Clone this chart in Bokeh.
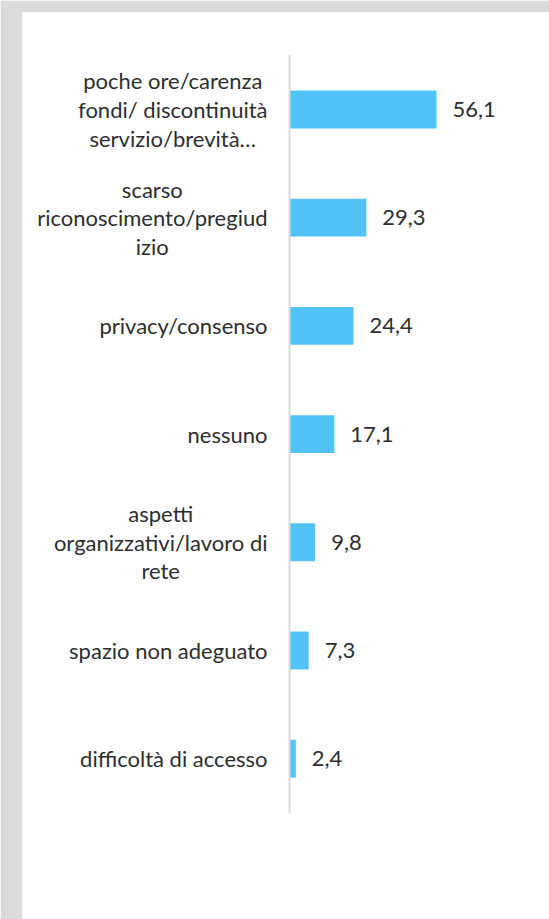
from bokeh.plotting import figure
from bokeh.models import ColumnDataSource, Range1d
from bokeh.core.properties import value
from bokeh.embed import file_html
from bokeh.resources import INLINE

categories = [
    "poche ore/carenza\nfondi/ discontinuità\nservizio/brevità…",
    "scarso\nriconoscimento/pregiud\nizio",
    "privacy/consenso",
    "nessuno",
    "aspetti\norganizzativi/lavoro di\nrete",
    "spazio non adeguato",
    "difficoltà di accesso",
]
values = [56.1, 29.3, 24.4, 17.1, 9.8, 7.3, 2.4]
value_labels = [f"{v:.1f}".replace(".", ",") for v in values]
positions = list(range(len(categories)))

src = ColumnDataSource(dict(y=positions, v=values, cat=categories, vl=value_labels))

p = figure(width=549, height=919,
           x_range=Range1d(-101.9, 99.2), y_range=Range1d(7.486, -0.896),
           output_backend="svg", toolbar_location=None,
           x_axis_location=None, y_axis_location=None,
           min_border_left=22, min_border_top=12, min_border_right=0, min_border_bottom=0,
           border_fill_color="#dddbda", background_fill_color="white",
           outline_line_color=None)
p.grid.visible = False

p.hbar(y="y", left=0, right="v", height=0.35, source=src,
       fill_color="#51C3F7", line_color=None)

p.segment(x0=0, y0=-0.5, x1=0, y1=len(categories) - 0.5,
          line_color="#d9d9d9", line_width=2)

p.text(x=0, y="y", text="cat", source=src, x_offset=-22,
       anchor=value("center_right"), text_align="center", text_baseline="middle",
       text_font=value("Lato"), text_font_size="22px", text_color="#2e2e2e",
       text_line_height=1.06)

p.text(x="v", y="y", text="vl", source=src, x_offset=16,
       anchor=value("center_left"), text_align="left", text_baseline="middle",
       text_font=value("Lato"), text_font_size="22px", text_color="#2e2e2e")

open("out.html", "w").write(file_html(p, INLINE))
